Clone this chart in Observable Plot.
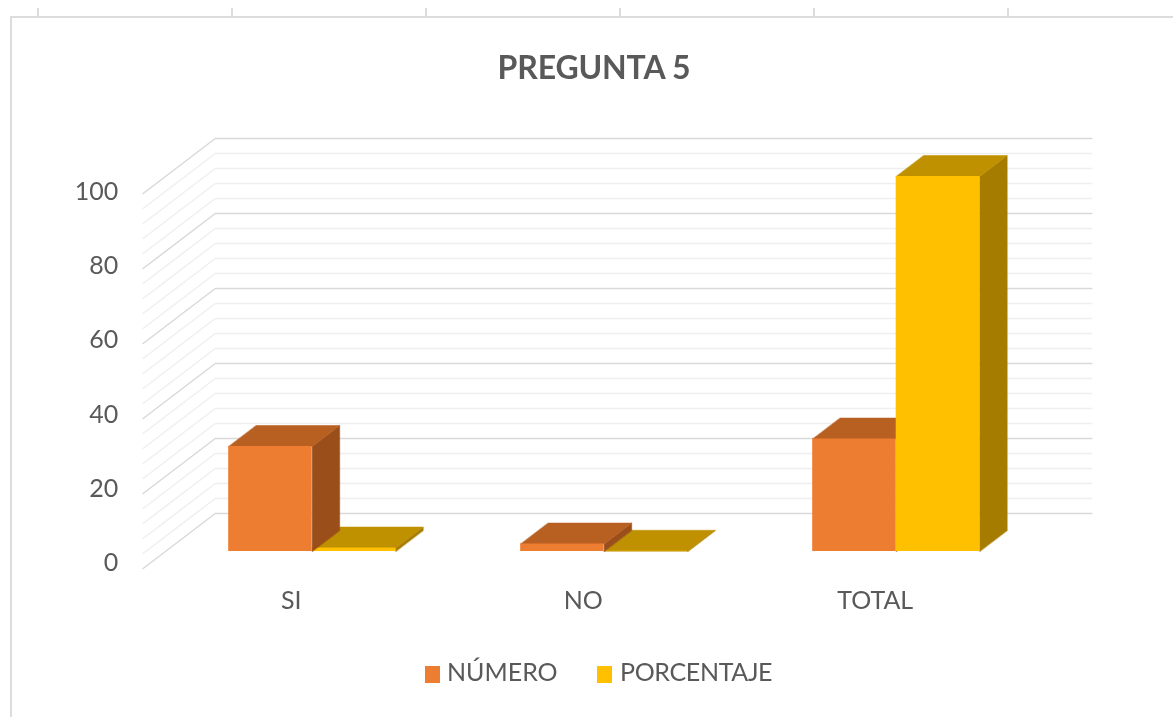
<!DOCTYPE html>
<html lang="es">
<head>
<meta charset="utf-8">
<title>PREGUNTA 5</title>
<script src="https://cdn.jsdelivr.net/npm/d3@7"></script>
<script src="https://cdn.jsdelivr.net/npm/@observablehq/plot@0.6"></script>
<style>
  html, body { margin: 0; padding: 0; background: #fff; overflow: hidden; }
  body { width: 1173px; height: 717px; position: relative; font-family: Lato, "Open Sans", sans-serif; color: #595959; filter: blur(0.55px); }
  .frame { position: absolute; left: 10px; top: 16px; right: -4px; bottom: -4px; border: 2px solid #dcdcdc; }
  .sheet-tick { position: absolute; top: 8px; width: 2px; height: 9px; background: #dcdcdc; }
  h1 { position: absolute; left: 0; width: 1188px; top: 47px; margin: 0; text-align: center; font-size: 32px; line-height: 40px; font-weight: 700; color: #595959; letter-spacing: -0.15px; }
  #chart { position: absolute; left: 0; top: 120px; }
  #chart svg { display: block; }
  .legend { position: absolute; top: 654px; left: 0; width: 100%; height: 34px; font-size: 25px; line-height: 34px; }
  .legend span { position: absolute; top: 0; }
  .legend span.tight { letter-spacing: -0.35px; }
  .legend i { position: absolute; top: 12px; width: 15px; height: 17px; }
</style>
</head>
<body>
<div class="frame"></div>
<h1>PREGUNTA 5</h1>
<div id="chart"></div>
<div class="legend" id="legend"></div>
<script>
// ---- data ----
const categories = ["SI", "NO", "TOTAL"];
const numero = [28, 2, 30];
const porcentaje = [0.93, 0.07, 100];
const seriesNames = ["NÚMERO", "PORCENTAJE"];
const yLabels = [0, 20, 40, 60, 80, 100];
const gridMinor = [4, 8, 12, 16, 24, 28, 32, 36, 44, 48, 52, 56, 64, 68, 72, 76, 84, 88, 92, 96];

// ---- colours ----
const frontColors = ["#ED7D31", "#FFC000"];
const topColors = ["#B85F22", "#BF9000"];
const sideColors = ["#9A4E1A", "#A67C00"];

// ---- look of the 3-D box, in data units (x: categories, y: values) ----
const barWidth = 0.286, depthX = 0.0942, depthY = 5.6;
const wallFrontX = -0.579, wallBackX = -0.332, wallRightX = 2.67;
const wallFrontY = -4.53, wallBackY = 10.13;

// Sheet ticks above the frame
[38, 232, 426, 620, 814, 1008].forEach(left => {
  const t = document.createElement("div");
  t.className = "sheet-tick";
  t.style.left = (left - 1) + "px";
  document.body.appendChild(t);
});

const gridLine = v => [
  {x: wallFrontX, y: v + wallFrontY, v},
  {x: wallBackX, y: v + wallBackY, v},
  {x: wallRightX, y: v + wallBackY, v}
];

function barMarks(cat, s, value) {
  const x1 = cat + (s - 1) * barWidth, x2 = x1 + barWidth;
  const top = [
    {x: x1, y: value}, {x: x2, y: value},
    {x: x2 + depthX, y: value + depthY}, {x: x1 + depthX, y: value + depthY}
  ];
  const side = [
    {x: x2, y: 0}, {x: x2, y: value},
    {x: x2 + depthX, y: value + depthY}, {x: x2 + depthX, y: depthY}
  ];
  return [
    Plot.line(side, {x: "x", y: "y", fill: sideColors[s], stroke: sideColors[s], strokeWidth: 0.5, curve: "linear-closed"}),
    Plot.line(top, {x: "x", y: "y", fill: topColors[s], stroke: topColors[s], strokeWidth: 0.5, curve: "linear-closed"}),
    Plot.rect([{x1, x2, y1: 0, y2: value}], {x1: "x1", x2: "x2", y1: "y1", y2: "y2", fill: frontColors[s]})
  ];
}

// Within one category the shorter bar is painted first
const bars = categories.flatMap((c, i) => {
  const pair = [{s: 0, value: numero[i]}, {s: 1, value: porcentaje[i]}];
  pair.sort((a, b) => a.value - b.value);
  return pair.flatMap(p => barMarks(i, p.s, p.value));
});

const W = 1173, H = 500;
const plot = Plot.plot({
  width: W,
  height: H,
  marginTop: 0, marginRight: 0, marginBottom: 0, marginLeft: 0,
  style: {background: "transparent", fontFamily: "Lato, 'Open Sans', sans-serif", overflow: "visible"},
  x: {axis: null, domain: [-311.7 / 292, (W - 311.7) / 292], range: [0, W]},
  y: {axis: null, domain: [-(H - 431) / 3.75, 431 / 3.75], range: [H, 0]},
  marks: [
    Plot.line(gridMinor.flatMap(gridLine), {x: "x", y: "y", z: "v", stroke: "#efefef", strokeWidth: 1.5}),
    Plot.line(yLabels.flatMap(gridLine), {x: "x", y: "y", z: "v", stroke: "#d9d9d9", strokeWidth: 1.5}),
    ...bars,
    Plot.text(yLabels, {
      x: wallFrontX - 0.085,
      y: v => v * 0.9893 - 2.667,
      text: d => String(d),
      textAnchor: "end",
      dy: 1.5,
      fontSize: 25,
      fill: "#595959",
      style: "letter-spacing:0.5px"
    }),
    Plot.text(categories, {
      x: (d, i) => i,
      y: -13.07,
      text: d => d,
      dx: -21,
      fontSize: 25,
      fill: "#595959"
    })
  ]
});
document.getElementById("chart").appendChild(plot);

// Legend below the chart
const legend = document.getElementById("legend");
[[425, 447], [597, 620]].forEach(([sw, tx], i) => {
  const sq = document.createElement("i");
  sq.style.left = sw + "px";
  sq.style.background = frontColors[i];
  const label = document.createElement("span");
  label.style.left = tx + "px";
  if (i === 1) label.className = "tight";
  label.textContent = seriesNames[i];
  legend.append(sq, label);
});
</script>
</body>
</html>
